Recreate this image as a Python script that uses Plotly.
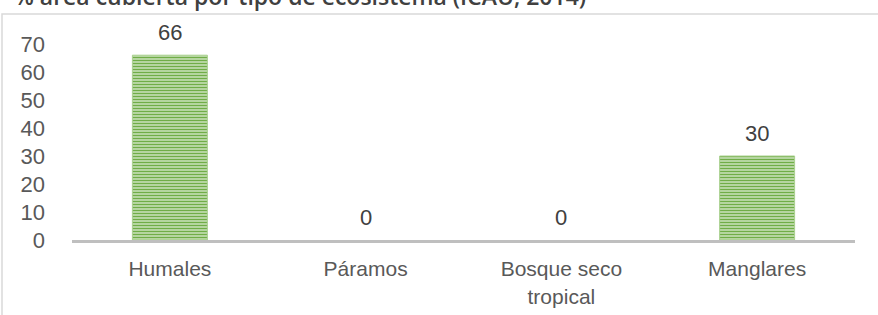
import plotly.graph_objects as go

categories = ["Humales", "Páramos", "Bosque seco<br>tropical", "Manglares"]
values = [66, 0, 0, 30]
y_ticks = [0, 10, 20, 30, 40, 50, 60, 70]
title_text = "% área cubierta por tipo de ecosistema (ICAU, 2014)"

W, H = 878, 315
ML, MR, MT, MB = 72, 23, 44, 75
PW = W - ML - MR
PH = H - MT - MB

def px_x(px):
    return (px - ML) / PW

def px_y(py):
    return (H - MB - py) / PH

fig = go.Figure()
fig.add_trace(go.Bar(
    x=categories,
    y=values,
    hoverinfo="skip",
    marker=dict(
        color="#70AD47",
        line=dict(color="#a9d08e", width=[1 if v > 0 else 0 for v in values]),
        pattern=dict(shape="-", fgcolor="#70AD47", bgcolor="#e9f3e2",
                     fgopacity=1, size=3, solidity=0.62),
    ),
))

label_annotations = [
    dict(x=c, y=v, xref="x", yref="y", text=str(v), showarrow=False,
         yanchor="bottom", yshift=8,
         font=dict(family="Liberation Sans, Arial", size=22, color="#404040"))
    for c, v in zip(categories, values)
]

fig.update_layout(
    width=W, height=H,
    margin=dict(l=ML, r=MR, t=MT, b=MB, autoexpand=False),
    paper_bgcolor="white",
    plot_bgcolor="white",
    showlegend=False,
    bargap=0.617,
    font=dict(family="Liberation Sans, Arial", size=22, color="#595959"),
    xaxis=dict(
        showline=True, linecolor="#bfbfbf", linewidth=3,
        ticks="", showgrid=False, zeroline=False, automargin=False,
        tickfont=dict(size=21, color="#595959"),
        ticklabelstandoff=8,
    ),
    yaxis=dict(
        range=[0, 70], tickvals=y_ticks,
        showline=False, showgrid=False, zeroline=False, ticks="", automargin=False,
        tickfont=dict(size=22, color="#595959"),
        ticklabelstandoff=26,
    ),
    shapes=[dict(
        type="rect", xref="paper", yref="paper",
        x0=px_x(2), x1=px_x(W + 5), y0=px_y(H + 5), y1=px_y(14),
        line=dict(color="#d9d9d9", width=1.5), fillcolor="rgba(0,0,0,0)", layer="below",
    )],
    annotations=label_annotations + [dict(
        text=title_text, xref="paper", yref="paper",
        x=px_x(12), y=px_y(-4), xanchor="left", yanchor="middle",
        showarrow=False,
        font=dict(family="Open Sans", size=23, color="#404040", weight=600),
    )],
)

fig.write_html(
    "out.html",
    config={"displayModeBar": False},
    post_script="document.body.style.margin='0';document.body.style.overflow='hidden';",
)
